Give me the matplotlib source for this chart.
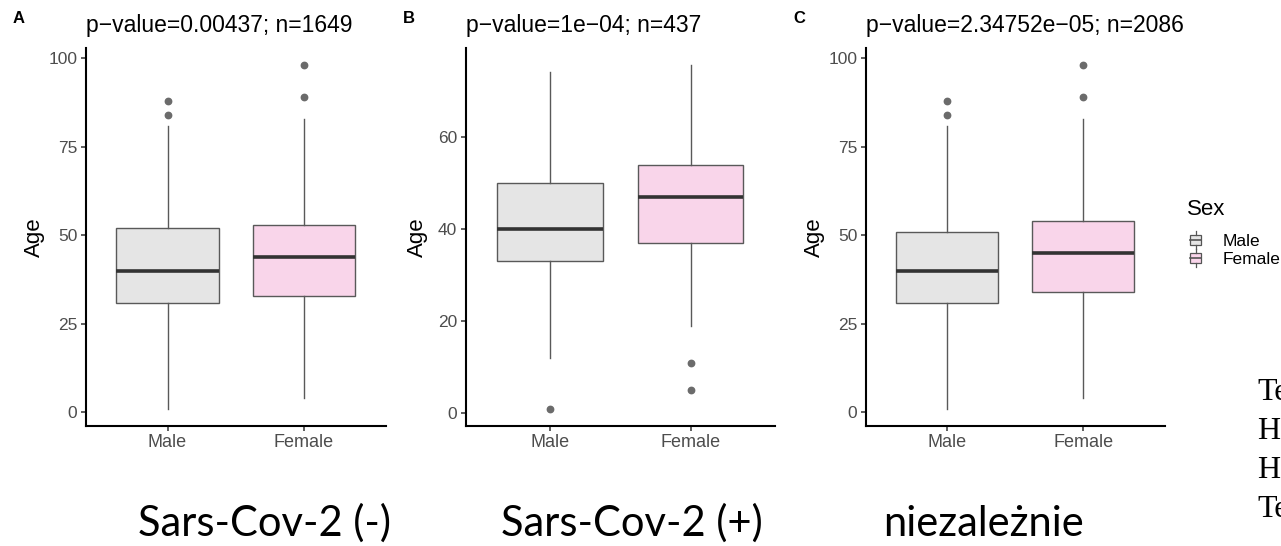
import matplotlib
matplotlib.use('Agg')
import matplotlib.pyplot as plt
from matplotlib.legend_handler import HandlerBase
from matplotlib.patches import Rectangle, Patch
from matplotlib.lines import Line2D

plt.rcParams['font.family'] = ['Liberation Sans', 'DejaVu Sans']

groups = ['Male', 'Female']
fills = ['#E5E5E5', '#F9D5EA']

titles = ['p\u2212value=0.00437; n=1649',
          'p\u2212value=1e\u221204; n=437',
          'p\u2212value=2.34752e\u221205; n=2086']
tags = ['A', 'B', 'C']
captions = ['Sars-Cov-2 (-)', 'Sars-Cov-2 (+)', 'niezależnie']
side_words = ['Te', 'H', 'H', 'Te']

# Age summaries per panel, ordered [Male, Female]
neg_q1 = [31, 33]
neg_med = [40, 44]
neg_q3 = [52, 53]
neg_lo = [1, 4]
neg_hi = [81, 83]
neg_out = [[84, 88], [89, 98]]

pos_q1 = [33, 37]
pos_med = [40, 47]
pos_q3 = [50, 54]
pos_lo = [12, 19]
pos_hi = [74, 75.5]
pos_out = [[1], [5, 11]]

all_q1 = [31, 34]
all_med = [40, 45]
all_q3 = [51, 54]
all_lo = [1, 4]
all_hi = [81, 83]
all_out = [[84, 88], [89, 98]]

yticks_ac = [0, 25, 50, 75, 100]
yticks_b = [0, 20, 40, 60]


def make_stats(q1, med, q3, lo, hi, out):
    return [dict(label=g, q1=q1[i], med=med[i], q3=q3[i],
                 whislo=lo[i], whishi=hi[i], fliers=out[i])
            for i, g in enumerate(groups)]


panels = [
    (make_stats(neg_q1, neg_med, neg_q3, neg_lo, neg_hi, neg_out), yticks_ac),
    (make_stats(pos_q1, pos_med, pos_q3, pos_lo, pos_hi, pos_out), yticks_b),
    (make_stats(all_q1, all_med, all_q3, all_lo, all_hi, all_out), yticks_ac),
]

W, H = 1281, 546
fig = plt.figure(figsize=(W / 100, H / 100), dpi=100)

# axes boxes in pixels: left, right (top 48, bottom 426 for all)
ax_px = [(85.7, 385.8), (465.7, 775.0), (865.7, 1165.0)]
ylab_x = [-0.137, -0.122, -0.137]
tag_x = [13, 403, 793]
cap_x = [265, 632, 984]
top_px, bot_px = 48.3, 426.0

for k, (stats, yt) in enumerate(panels):
    l, r = ax_px[k]
    ax = fig.add_axes([l / W, 1 - bot_px / H, (r - l) / W, (bot_px - top_px) / H])
    res = ax.bxp(stats, positions=[1, 2], widths=0.75, patch_artist=True,
                 showcaps=False,
                 boxprops=dict(edgecolor='#595959', linewidth=1.0),
                 whiskerprops=dict(color='#595959', linewidth=1.0),
                 medianprops=dict(color='#333333', linewidth=2.6, solid_capstyle='butt'),
                 flierprops=dict(marker='o', markersize=4.6, markerfacecolor='#6b6b6b',
                                 markeredgecolor='#6b6b6b'))
    for box, fc in zip(res['boxes'], fills):
        box.set_facecolor(fc)

    vals = [v for s in stats for v in [s['whislo'], s['whishi']] + list(s['fliers'])]
    lo, hi = min(vals), max(vals)
    pad = (hi - lo) * 0.05
    ax.set_ylim(lo - pad, hi + pad)
    ax.set_xlim(0.4, 2.6)
    ax.set_yticks(yt)
    ax.set_xticks([1, 2])
    ax.set_xticklabels(groups)

    for side in ['top', 'right']:
        ax.spines[side].set_visible(False)
    for side in ['left', 'bottom']:
        ax.spines[side].set_linewidth(1.5)
        ax.spines[side].set_color('black')
    ax.tick_params(axis='both', direction='out', length=3.5, width=1.1,
                   color='#333333', labelcolor='#4D4D4D', labelsize=12.5, pad=2.5)
    ax.tick_params(axis='x', labelsize=13)

    ax.set_ylabel('Age', fontsize=16, color='black')
    ax.yaxis.set_label_coords(ylab_x[k], 0.5)
    ax.set_title(titles[k], loc='left', fontsize=16.5, pad=12)

    fig.text(tag_x[k] / W, 1 - 23 / H, tags[k], fontsize=12, fontweight='bold',
             va='baseline', ha='left')
    fig.text(cap_x[k] / W, 1 - 536 / H, captions[k], fontsize=30,
             family=['Lato', 'DejaVu Sans'], ha='center', va='baseline')

for i, word in enumerate(side_words):
    fig.text(1257 / W, 1 - (400 + 38.9 * i) / H, word, fontsize=23,
             family=['Liberation Serif', 'DejaVu Serif'], ha='left', va='baseline')


class BoxKey(HandlerBase):
    def create_artists(self, legend, orig_handle, xdescent, ydescent,
                       width, height, fontsize, trans):
        x0, y0 = -xdescent, -ydescent
        cx = x0 + width / 2
        ec = '#555555'
        box = Rectangle((x0, y0 + height * 0.22), width, height * 0.56,
                        facecolor=orig_handle.get_facecolor(), edgecolor=ec,
                        linewidth=0.9, transform=trans)
        mid = Line2D([x0, x0 + width], [y0 + height / 2] * 2, color=ec,
                     linewidth=1.2, transform=trans)
        up = Line2D([cx, cx], [y0 + height * 0.78, y0 + height * 1.0], color=ec,
                    linewidth=0.9, transform=trans)
        dn = Line2D([cx, cx], [y0, y0 + height * 0.22], color=ec,
                    linewidth=0.9, transform=trans)
        return [box, mid, up, dn]


# legend: title set as its own text, entries below it
fig.text(1187 / W, 1 - 215 / H, 'Sex', fontsize=16, ha='left', va='baseline')
handles = [Patch(facecolor=fc) for fc in fills]
leg = fig.legend(handles, groups, loc='upper left',
                 bbox_to_anchor=(1190 / W, 1 - 231 / H), frameon=False,
                 fontsize=12.5, handlelength=0.65, handleheight=1.2,
                 handletextpad=1.25, labelspacing=0.0,
                 borderpad=0, borderaxespad=0,
                 handler_map={Patch: BoxKey()})

fig.savefig('out.png', dpi=100)
